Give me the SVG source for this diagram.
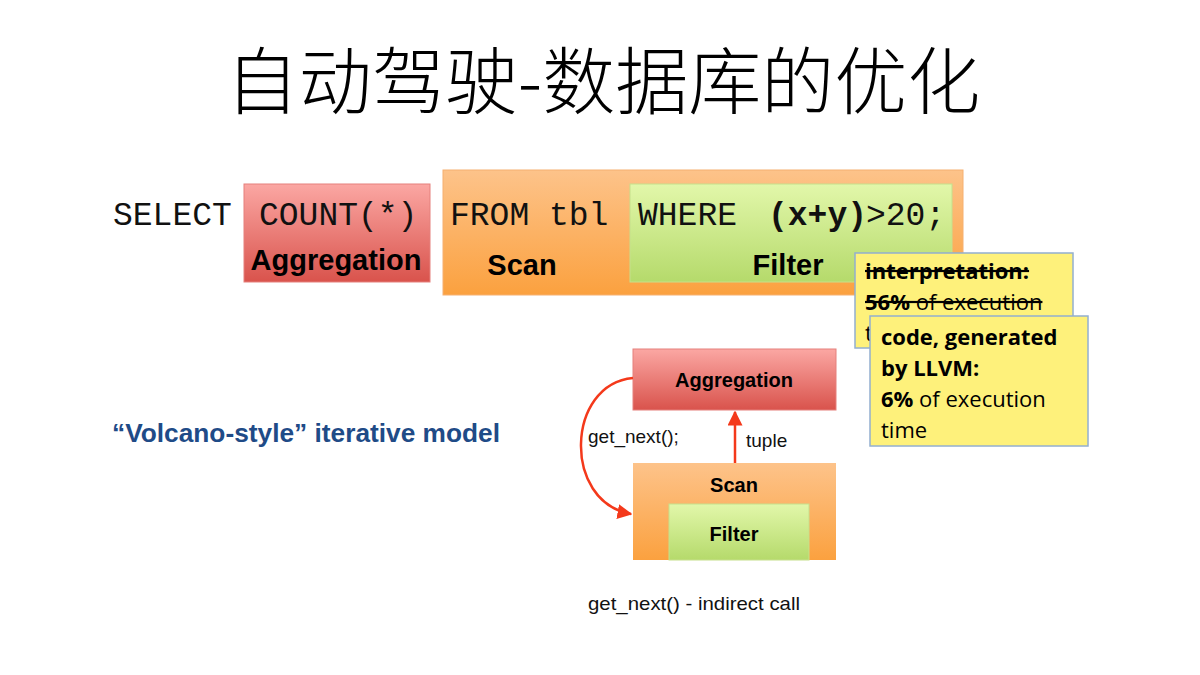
<svg xmlns="http://www.w3.org/2000/svg" width="1200" height="675" viewBox="0 0 1200 675">
<style>
.mono{font-family:"Liberation Mono","Courier New",monospace;font-size:33px;fill:#111}
.lbl{font-family:"Liberation Sans",Arial,sans-serif;font-weight:bold;fill:#000}
.note{font-family:"Open Sans","Noto Sans",sans-serif;font-size:22px;fill:#000}
.sm{font-family:"Liberation Sans",Arial,sans-serif;font-size:19px;fill:#111}
.b{font-weight:bold}
</style>
<defs>
<linearGradient id="gRed" x1="0" y1="0" x2="0" y2="1"><stop offset="0" stop-color="#fba7a3"/><stop offset="1" stop-color="#d9534c"/></linearGradient>
<linearGradient id="gOrange" x1="0" y1="0" x2="0" y2="1"><stop offset="0" stop-color="#fdc38a"/><stop offset="1" stop-color="#fba13f"/></linearGradient>
<linearGradient id="gGreen" x1="0" y1="0" x2="0" y2="1"><stop offset="0" stop-color="#e2f7aa"/><stop offset="1" stop-color="#b5da6b"/></linearGradient>
<marker id="arr" viewBox="0 0 10 10" refX="9" refY="5" markerWidth="6" markerHeight="6" orient="auto" markerUnits="strokeWidth"><path d="M0,0 L10,5 L0,10 z" fill="#f4391b"/></marker>
</defs>
<rect width="1200" height="675" fill="#fff"/>
<text x="603" y="108" text-anchor="middle" font-family="Noto Sans CJK SC, sans-serif" font-weight="300" font-size="73" fill="#000">自动驾驶-数据库的优化</text>

<g id="sql-top">
<text class="mono" x="113" y="225">SELECT</text>
</g>
<g id="agg-top">
<rect x="244" y="184" width="186" height="98" fill="url(#gRed)" stroke="#e5807c" stroke-width="1"/>
<text class="mono" x="259" y="225">COUNT(*)</text>
<text class="lbl" x="336" y="270" font-size="29" text-anchor="middle">Aggregation</text>
</g>
<g id="scan-top">
<rect x="443" y="170" width="520" height="125" fill="url(#gOrange)" stroke="#f6b070" stroke-width="1"/>
<text class="mono" x="450" y="225" xml:space="preserve">FROM tbl</text>
<text class="lbl" x="522" y="275" font-size="29" text-anchor="middle">Scan</text>
</g>
<g id="filter-top">
<rect x="630" y="184" width="322" height="98" fill="url(#gGreen)" stroke="#c6e08c" stroke-width="1"/>
<text class="mono" x="638" y="225">WHERE</text>
<text class="mono" x="768" y="225" font-size="30" font-weight="bold">(x+y)</text>
<text class="mono" x="866" y="225">&gt;20;</text>
<text class="lbl" x="788" y="275" font-size="29" text-anchor="middle">Filter</text>
</g>
<g id="note-interp">
<rect x="855" y="253" width="218" height="95" fill="#fef17b" stroke="#93afd0" stroke-width="1.5"/>
<text class="note b" x="865" y="279" text-decoration="line-through">interpretation:</text>
<text class="note" x="865" y="310" text-decoration="line-through"><tspan class="b">56%</tspan> of execution</text>
<text class="note" x="865" y="341">time</text>
</g>
<g id="note-llvm">
<rect x="870" y="316" width="218" height="130" fill="#fef17b" stroke="#93afd0" stroke-width="1.5"/>
<text class="note b" x="881" y="345">code, generated</text>
<text class="note b" x="881" y="376">by LLVM:</text>
<text class="note" x="881" y="407"><tspan class="b">6%</tspan> of execution</text>
<text class="note" x="881" y="438">time</text>
</g>
<g id="volcano-label">
<text x="112" y="442" font-family="Liberation Sans, Arial, sans-serif" font-weight="bold" font-size="26" fill="#1f4b87" textLength="388" lengthAdjust="spacingAndGlyphs">“Volcano-style” iterative model</text>
</g>
<g id="agg-node">
<rect x="633" y="349" width="203" height="61" fill="url(#gRed)" stroke="#e5807c" stroke-width="1"/>
<text class="lbl" x="734" y="387" font-size="20" text-anchor="middle">Aggregation</text>
</g>
<g id="scan-node">
<rect x="633" y="463" width="203" height="97" fill="url(#gOrange)"/>
<text class="lbl" x="734" y="492" font-size="20" text-anchor="middle">Scan</text>
</g>
<g id="filter-node">
<rect x="669" y="504" width="140" height="56" fill="url(#gGreen)" stroke="#c6e08c" stroke-width="1"/>
<text class="lbl" x="734" y="541" font-size="20" text-anchor="middle">Filter</text>
</g>
<g id="connectors" fill="none" stroke="#f4391b" stroke-width="2.5">
<path d="M735,463 L735,412" marker-end="url(#arr)"/>
<path d="M633,378 C566,384 562,502 631,514" marker-end="url(#arr)"/>
</g>
<g id="labels">
<text class="sm" x="746" y="447" font-size="20">tuple</text>
<text class="sm" x="588" y="443">get_next();</text>
<text class="sm" x="588" y="610" font-size="21" textLength="212" lengthAdjust="spacingAndGlyphs">get_next() - indirect call</text>
</g>
</svg>
